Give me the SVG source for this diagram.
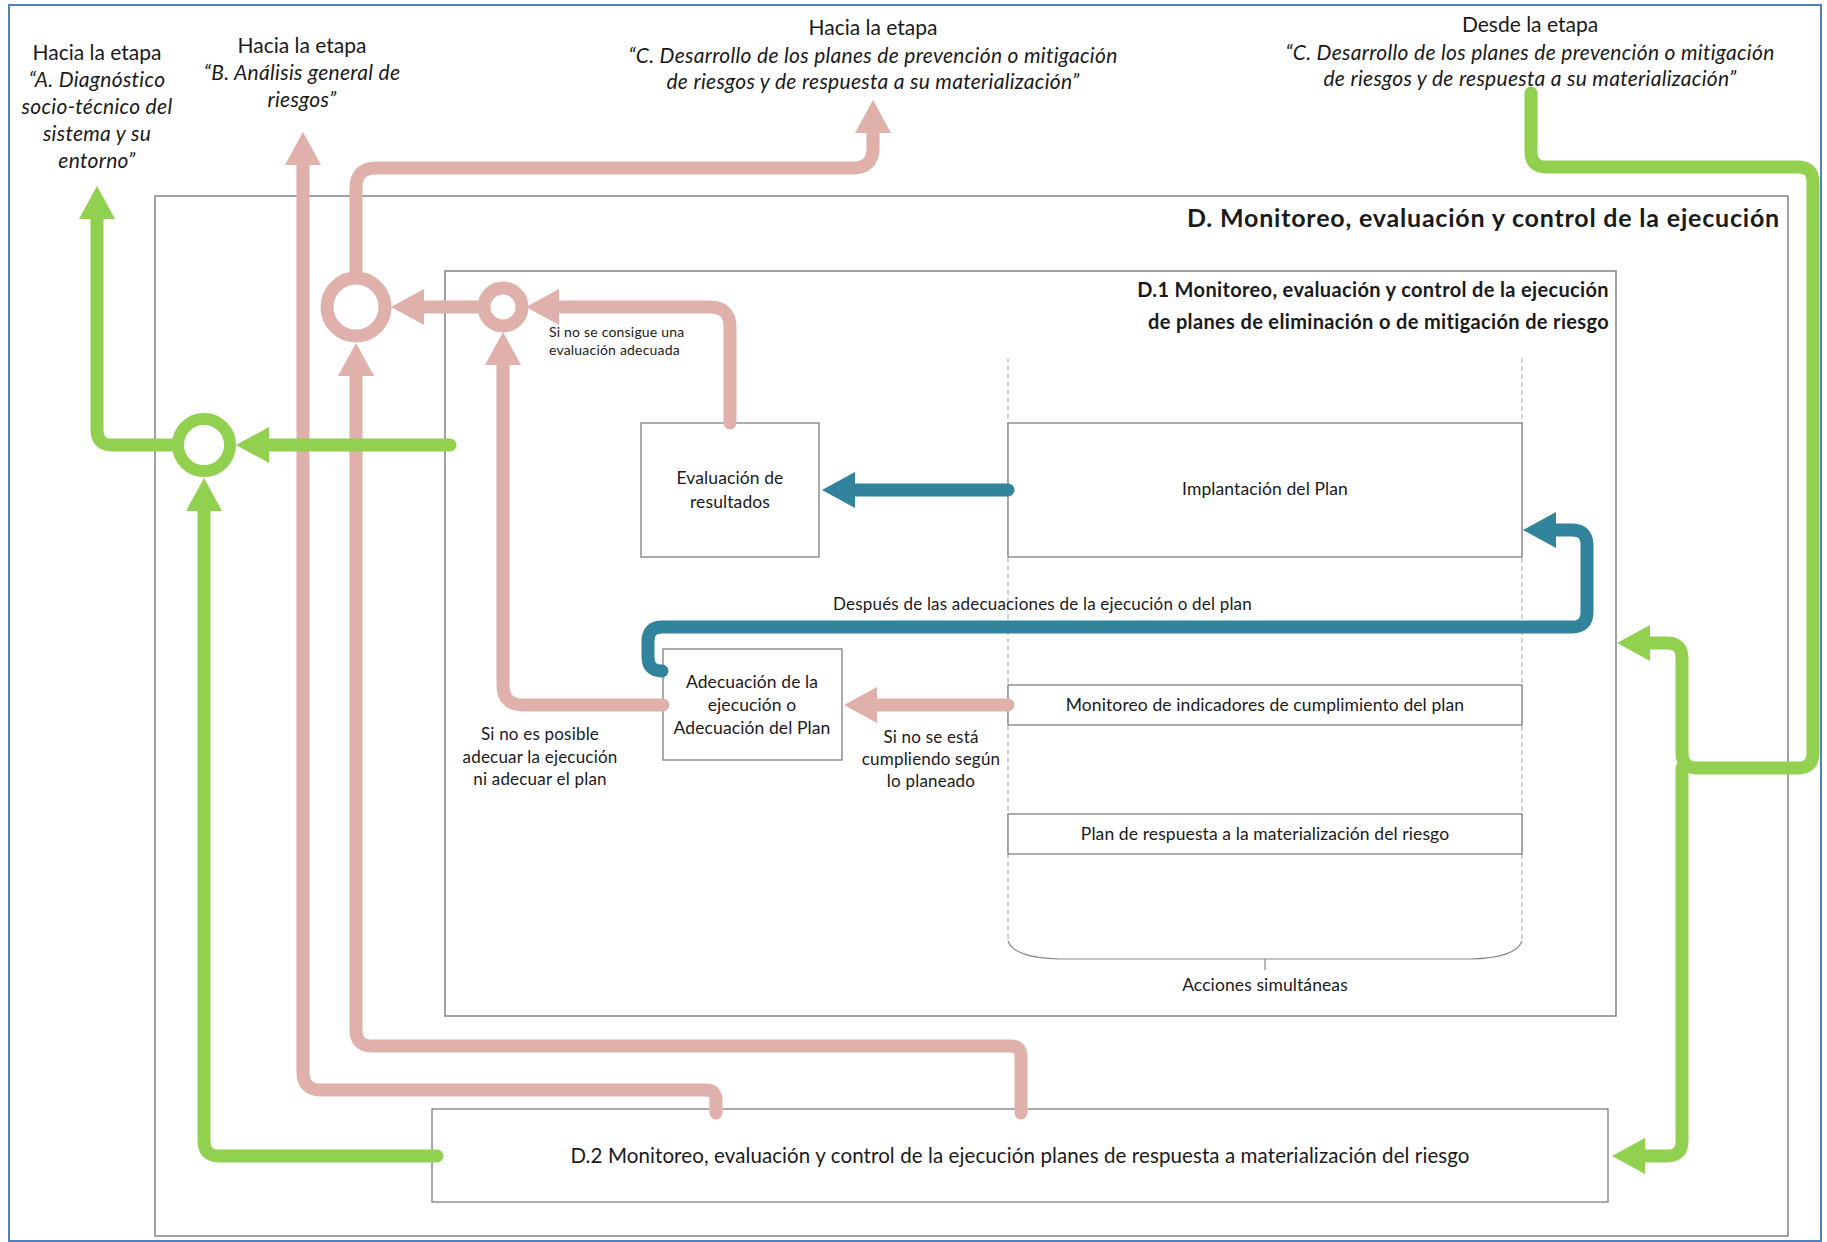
<svg xmlns="http://www.w3.org/2000/svg" width="1827" height="1242" viewBox="0 0 1827 1242">
  <style>
    text { font-family: Lato, "Open Sans", "Liberation Sans", sans-serif; fill: #1a1a1a; }
    .lbl { font-size: 21px; text-anchor: middle; }
    .it { font-style: italic; letter-spacing: 0.3px; }
    .box { fill: #ffffff; stroke: #7f7f7f; stroke-width: 1.3; }
    .frame { fill: none; stroke: #8a8a8a; stroke-width: 1.6; }
    .btxt { font-size: 17.5px; letter-spacing: 0.1px; text-anchor: middle; }
    .small { font-size: 14px; letter-spacing: 0.2px; }
    .note { font-size: 17px; letter-spacing: 0.2px; }
    .title { font-weight: bold; text-anchor: end; }
    .dash { fill: none; stroke: #b5b5b5; stroke-width: 1.2; stroke-dasharray: 5 3; }
    .line { fill: none; stroke-width: 13; stroke-linecap: round; stroke-linejoin: round; }
    .green { stroke: #92d050; }
    .pink { stroke: #e0b0ab; }
    .teal { stroke: #31849b; }
    .ring { fill: #ffffff; }
  </style>
  <defs>
    <marker id="arrGreen" markerUnits="userSpaceOnUse" markerWidth="36" markerHeight="40" viewBox="0 -20 36 40" refX="0" refY="0" orient="auto">
      <path d="M0,-18 L33,0 L0,18 Z" fill="#92d050"/>
    </marker>
    <marker id="arrPink" markerUnits="userSpaceOnUse" markerWidth="36" markerHeight="40" viewBox="0 -20 36 40" refX="0" refY="0" orient="auto">
      <path d="M0,-18 L33,0 L0,18 Z" fill="#e0b0ab"/>
    </marker>
    <marker id="arrTeal" markerUnits="userSpaceOnUse" markerWidth="36" markerHeight="40" viewBox="0 -20 36 40" refX="0" refY="0" orient="auto">
      <path d="M0,-18 L33,0 L0,18 Z" fill="#31849b"/>
    </marker>
  </defs>

  <rect x="0" y="0" width="1827" height="1242" fill="#ffffff"/>
  <rect x="9" y="5" width="1812" height="1236" fill="none" stroke="#4f81bd" stroke-width="2"/>

  <!-- stage references outside the frame -->
  <g id="ref-a">
    <text class="lbl" x="97" y="60">Hacia la etapa</text>
    <text class="lbl it" x="97" y="87">“A. Diagnóstico</text>
    <text class="lbl it" x="97" y="114">socio-técnico del</text>
    <text class="lbl it" x="97" y="141">sistema y su</text>
    <text class="lbl it" x="97" y="168">entorno”</text>
  </g>
  <g id="ref-b">
    <text class="lbl" x="302" y="53">Hacia la etapa</text>
    <text class="lbl it" x="302" y="80">“B. Análisis general de</text>
    <text class="lbl it" x="302" y="107">riesgos”</text>
  </g>
  <g id="ref-c-out">
    <text class="lbl" x="873" y="35">Hacia la etapa</text>
    <text class="lbl it" x="873" y="63">“C. Desarrollo de los planes de prevención o mitigación</text>
    <text class="lbl it" x="873" y="89">de riesgos y de respuesta a su materialización”</text>
  </g>
  <g id="ref-c-in">
    <text class="lbl" x="1530" y="32">Desde la etapa</text>
    <text class="lbl it" x="1530" y="60">“C. Desarrollo de los planes de prevención o mitigación</text>
    <text class="lbl it" x="1530" y="86">de riesgos y de respuesta a su materialización”</text>
  </g>

  <!-- stage D container -->
  <g id="stage-d">
    <rect class="frame" x="155" y="196" width="1633" height="1040" fill="#ffffff"/>
    <text class="title" x="1780" y="227" font-size="25" letter-spacing="0.8">D. Monitoreo, evaluación y control de la ejecución</text>
  </g>

  <!-- D.1 container -->
  <g id="stage-d1">
    <rect class="frame" x="445" y="271" width="1171" height="745" fill="#ffffff"/>
    <text class="title" x="1609" y="297" font-size="20" letter-spacing="0.35">D.1 Monitoreo, evaluación y control de la ejecución</text>
    <text class="title" x="1609" y="329" font-size="20" letter-spacing="0.35">de planes de eliminación o de mitigación de riesgo</text>
  </g>

  <!-- simultaneous actions bracket -->
  <g id="simultaneous">
    <path class="dash" d="M1008,358 V941"/>
    <path class="dash" d="M1522,358 V941"/>
    <path d="M1008,941 Q1014,958 1060,959 H1470 Q1516,958 1522,941" fill="none" stroke="#8a8a8a" stroke-width="1.2"/>
    <path d="M1265,959 V970" fill="none" stroke="#8a8a8a" stroke-width="1.2"/>
    <text class="btxt" x="1265" y="991">Acciones simultáneas</text>
  </g>

  <g id="implantacion">
    <rect class="box" x="1008" y="423" width="514" height="134"/>
    <text class="btxt" x="1265" y="495">Implantación del Plan</text>
  </g>
  <g id="monitoreo-indicadores">
    <rect class="box" x="1008" y="685" width="514" height="40"/>
    <text class="btxt" x="1265" y="711">Monitoreo de indicadores de cumplimiento del plan</text>
  </g>
  <g id="plan-respuesta">
    <rect class="box" x="1008" y="814" width="514" height="40"/>
    <text class="btxt" x="1265" y="840">Plan de respuesta a la materialización del riesgo</text>
  </g>
  <g id="evaluacion">
    <rect class="box" x="641" y="423" width="178" height="134"/>
    <text class="btxt" x="730" y="484">Evaluación de</text>
    <text class="btxt" x="730" y="508">resultados</text>
  </g>
  <g id="adecuacion">
    <rect class="box" x="663" y="649" width="179" height="111"/>
    <text class="btxt" x="752" y="688">Adecuación de la</text>
    <text class="btxt" x="752" y="711">ejecución o</text>
    <text class="btxt" x="752" y="734">Adecuación del Plan</text>
  </g>
  <g id="stage-d2">
    <rect class="box" x="432" y="1109" width="1176" height="93"/>
    <text x="1020" y="1163" font-size="20.5" letter-spacing="0.1" text-anchor="middle">D.2 Monitoreo, evaluación y control de la ejecución planes de respuesta a materialización del riesgo</text>
  </g>

  <!-- connectors -->
  <g id="connectors">
    <!-- pink: rejection paths -->
    <path class="line pink" d="M716,1113 V1100 Q716,1090 706,1090 H321 Q303,1090 303,1072 V165" marker-end="url(#arrPink)"/>
    <path class="line pink" d="M1021,1113 V1056 Q1021,1046 1011,1046 H372 Q356,1046 356,1030 V376" marker-end="url(#arrPink)"/>
    <path class="line pink" d="M356,272 V188 Q356,168 376,168 H853 Q873,168 873,148 V133" marker-end="url(#arrPink)"/>
    <path class="line pink" d="M730,423 V327 Q730,307 710,307 H559" marker-end="url(#arrPink)"/>
    <path class="line pink" d="M480,307 H424" marker-end="url(#arrPink)"/>
    <path class="line pink" d="M663,705 H523 Q503,705 503,685 V365" marker-end="url(#arrPink)"/>
    <path class="line pink" d="M1008,705 H877" marker-end="url(#arrPink)"/>
    <circle class="ring pink" cx="356" cy="307" r="29" stroke-width="13"/>
    <circle class="ring pink" cx="503" cy="307" r="19" stroke-width="13"/>

    <!-- teal: plan execution flow -->
    <path class="line teal" d="M1008,490 H855" marker-end="url(#arrTeal)"/>
    <path class="line teal" d="M662,671 Q648,671 648,657 V641 Q648,627 662,627 H1572 Q1587,627 1587,612 V545 Q1587,530 1572,530 H1556" marker-end="url(#arrTeal)"/>

    <!-- green: stage transitions -->
    <path class="line green" d="M1531,93 V152 Q1531,167 1546,167 H1798 Q1813,167 1813,182 V753 Q1813,768 1798,768 H1697 Q1682,768 1682,753 V658 Q1682,643 1667,643 H1650" marker-end="url(#arrGreen)"/>
    <path class="line green" d="M1682,768 V1141 Q1682,1156 1667,1156 H1645" marker-end="url(#arrGreen)"/>
    <path class="line green" d="M450,445 H269" marker-end="url(#arrGreen)"/>
    <path class="line green" d="M172,445 H112 Q97,445 97,430 V219" marker-end="url(#arrGreen)"/>
    <path class="line green" d="M437,1156 H219 Q204,1156 204,1141 V511" marker-end="url(#arrGreen)"/>
    <circle class="ring green" cx="204" cy="445" r="26" stroke-width="12"/>
  </g>

  <!-- connector labels -->
  <g id="labels">
    <text class="small" x="549" y="337">Si no se consigue una</text>
    <text class="small" x="549" y="355">evaluación adecuada</text>
    <text class="note" x="833" y="610">Después de las adecuaciones de la ejecución o del plan</text>
    <text class="note" x="540" y="740" text-anchor="middle">Si no es posible</text>
    <text class="note" x="540" y="763" text-anchor="middle">adecuar la ejecución</text>
    <text class="note" x="540" y="785" text-anchor="middle">ni adecuar el plan</text>
    <text class="note" x="931" y="743" text-anchor="middle">Si no se está</text>
    <text class="note" x="931" y="765" text-anchor="middle">cumpliendo según</text>
    <text class="note" x="931" y="787" text-anchor="middle">lo planeado</text>
  </g>
</svg>
